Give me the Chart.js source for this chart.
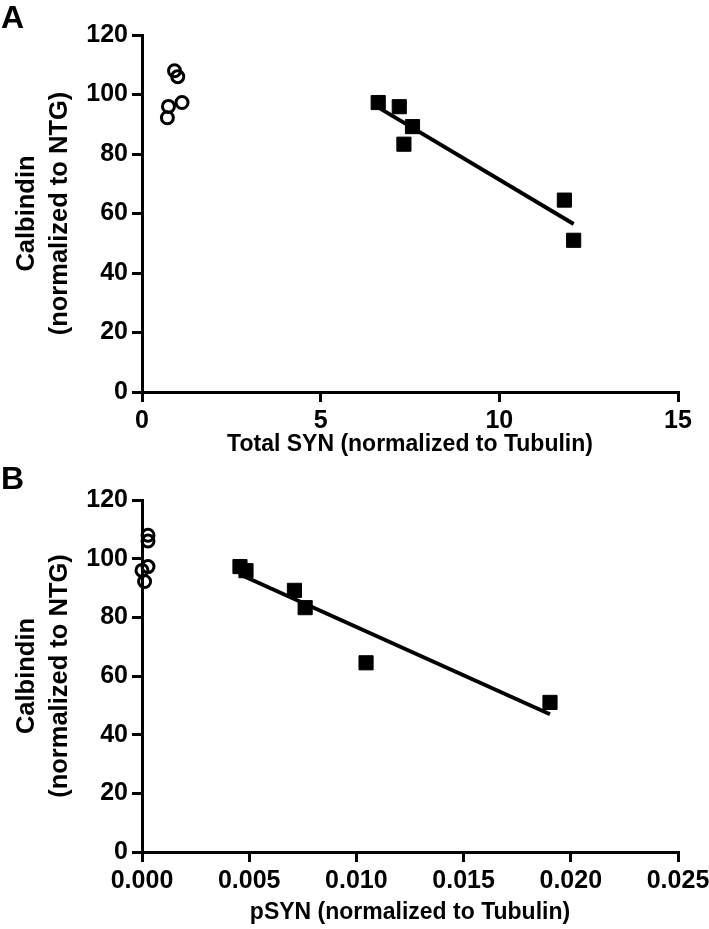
<!DOCTYPE html>
<html>
<head>
<meta charset="utf-8">
<script src="https://cdn.jsdelivr.net/npm/chart.js@4.4.0/dist/chart.umd.min.js"></script>
<style>
  body { margin: 0; background: #fff; width: 709px; height: 929px; position: relative; overflow: hidden; font-family: "Liberation Sans", Arial, sans-serif; }
  .panel { position: absolute; left: 0; }
  .tag { position: absolute; left: 1px; font-weight: bold; font-size: 32px; line-height: 1; }
</style>
</head>
<body>
<div class="panel" style="top:0"><canvas id="chartA" width="709" height="460"></canvas></div>
<div class="panel" style="top:460px"><canvas id="chartB" width="709" height="469"></canvas></div>
<div class="tag" style="top:1px">A</div>
<div class="tag" style="top:462px">B</div>
<script>
// Calbindin (normalized to NTG), shared by both panels
const calbindinNTG = [108, 106, 97.3, 96, 92.2];
const calbindinTG = [97.3, 95.9, 89.2, 83.3, 64.5, 51.0];

// panel A: total SYN (normalized to Tubulin)
const totalSynNTG = [0.91, 1.0, 1.12, 0.74, 0.71];
const totalSynTG = [6.61, 7.2, 7.57, 7.33, 11.82, 12.08];

// panel B: pSYN (normalized to Tubulin)
const pSynNTG = [0.00028, 0.00028, 0.00028, 0.0, 0.00012];
const pSynTG = [0.00457, 0.00485, 0.00711, 0.00761, 0.01045, 0.01903];

const yTicks = [0, 20, 40, 60, 80, 100, 120];
const xTicksA = [0, 5, 10, 15];
const xTicksB = [0, 0.005, 0.01, 0.015, 0.02, 0.025];

const FONT = '"Liberation Sans", Arial, Helvetica, sans-serif';

function toPoints(xs, ys) {
    return xs.map((x, i) => ({ x: x, y: ys[i] }));
}

// least squares line over the TG points, drawn between min and max x
function fitLine(xs, ys) {
    const n = xs.length;
    const mx = xs.reduce((a, b) => a + b, 0) / n;
    const my = ys.reduce((a, b) => a + b, 0) / n;
    let sxy = 0, sxx = 0;
    xs.forEach((x, i) => {
        sxy += (x - mx) * (ys[i] - my);
        sxx += (x - mx) * (x - mx);
    });
    const slope = sxy / sxx;
    const lo = Math.min(...xs), hi = Math.max(...xs);
    return [lo, hi].map(x => ({ x: x, y: my + slope * (x - mx) }));
}

function axisBase() {
    return {
        border: { display: true, color: '#000', width: 3 },
        grid: { display: true, drawOnChartArea: false, drawTicks: true, tickLength: 10, color: '#000', lineWidth: 3 },
        ticks: { color: '#000', padding: 4, font: { family: FONT, size: 25, weight: 'bold' } }
    };
}

function makeChart(id, xsNTG, xsTG, xTicks, xMax, xTitle, xFormat, opts) {
    const xAxis = axisBase();
    xAxis.type = 'linear';
    xAxis.min = 0;
    xAxis.max = xMax;
    xAxis.ticks.callback = xFormat;
    xAxis.ticks.maxRotation = 0;
    xAxis.afterBuildTicks = s => { s.ticks = xTicks.map(v => ({ value: v })); };
    xAxis.afterFit = s => { s.height = opts.xHeight; s.paddingLeft = 0; s.paddingRight = 0; };
    xAxis.title = {
        display: true, text: xTitle, color: '#000',
        font: { family: FONT, size: 23, weight: 'bold', lineHeight: 1 },
        padding: { top: 0, bottom: opts.xTitlePad }
    };

    const yAxis = axisBase();
    yAxis.min = 0;
    yAxis.max = 120;
    yAxis.afterBuildTicks = s => { s.ticks = yTicks.map(v => ({ value: v })); };
    yAxis.afterFit = s => { s.width = 142; s.paddingTop = 0; s.paddingBottom = 0; };
    yAxis.title = {
        display: true, text: ['Calbindin', '(normalized to NTG)'], color: '#000',
        font: { family: FONT, size: 25.5, weight: 'bold', lineHeight: 1.3 },
        padding: { top: 10, bottom: 0 }
    };

    return new Chart(document.getElementById(id).getContext('2d'), {
        type: 'scatter',
        data: {
            datasets: [
                {
                    label: 'NTG',
                    data: toPoints(xsNTG, calbindinNTG),
                    pointStyle: 'circle',
                    pointRadius: 6,
                    borderWidth: 3,
                    borderColor: '#000',
                    backgroundColor: 'rgba(0,0,0,0)',
                    clip: false
                },
                {
                    label: 'fit',
                    type: 'line',
                    data: fitLine(xsTG, calbindinTG),
                    borderColor: '#000',
                    borderWidth: 4,
                    pointRadius: 0,
                    fill: false,
                    clip: false
                },
                {
                    label: 'TG',
                    data: toPoints(xsTG, calbindinTG),
                    pointStyle: 'rect',
                    pointRadius: 10,
                    borderWidth: 1,
                    borderColor: '#000',
                    backgroundColor: '#000',
                    clip: false
                }
            ]
        },
        options: {
            responsive: false,
            animation: false,
            layout: { padding: { top: opts.top, right: 31, left: 0, bottom: 0 } },
            plugins: { legend: { display: false }, tooltip: { enabled: false } },
            scales: { x: xAxis, y: yAxis }
        }
    });
}

makeChart('chartA', totalSynNTG, totalSynTG, xTicksA, 15,
    'Total SYN (normalized to Tubulin)', v => String(v),
    { top: 35, xHeight: 68, xTitlePad: 3.5 });

makeChart('chartB', pSynNTG, pSynTG, xTicksB, 0.025,
    'pSYN (normalized to Tubulin)', v => v.toFixed(3),
    { top: 40, xHeight: 77, xTitlePad: 4.5 });
</script>
</body>
</html>
